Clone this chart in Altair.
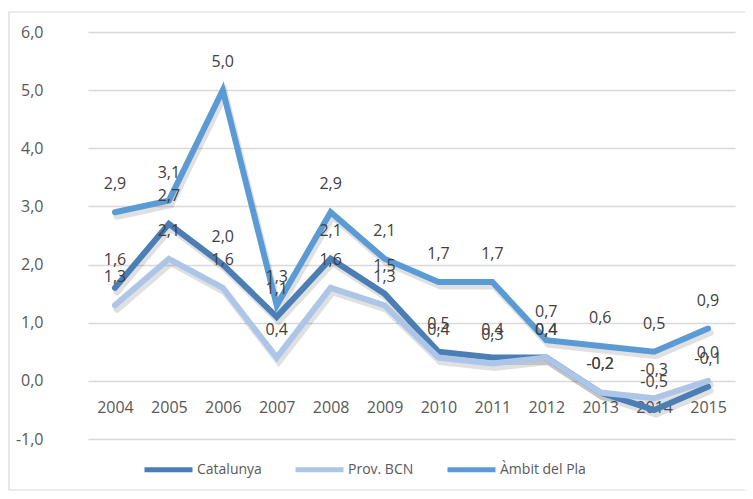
import altair as alt
import pandas as pd

years = ["2004", "2005", "2006", "2007", "2008", "2009", "2010", "2011", "2012", "2013", "2014", "2015"]
series_names = ["Catalunya", "Prov. BCN", "Àmbit del Pla"]
catalunya = [1.6, 2.7, 2.0, 1.1, 2.1, 1.5, 0.5, 0.4, 0.4, -0.2, -0.5, -0.1]
prov_bcn = [1.3, 2.1, 1.6, 0.4, 1.6, 1.3, 0.4, 0.3, 0.4, -0.2, -0.3, 0.0]
ambit = [2.9, 3.1, 5.0, 1.3, 2.9, 2.1, 1.7, 1.7, 0.7, 0.6, 0.5, 0.9]
colors = ["#4A7EB4", "#ADC6E8", "#5B9BD5"]
y_ticks = [-1, 0, 1, 2, 3, 4, 5, 6]

rows = []
for name, vals in zip(series_names, [catalunya, prov_bcn, ambit]):
    for yr, v in zip(years, vals):
        rows.append({"series": name, "year": yr, "value": v,
                     "label": f"{v:.1f}".replace(".", ",")})
df = pd.DataFrame(rows)

FONT = "Open Sans"
TXT = "#595959"

x_enc = alt.X("year:O", title=None, sort=years,
              scale=alt.Scale(type="point", range=[29, 676]),
              axis=alt.Axis(domain=False, ticks=False, grid=False, labelAngle=0,
                            offset=-58, labelPadding=18))
y_enc = alt.Y("value:Q", title=None,
              scale=alt.Scale(domain=[-1, 6], nice=False, zero=False),
              axis=alt.Axis(values=y_ticks, domain=False, ticks=False, grid=True,
                            gridColor="#D9D9D9", gridWidth=1.5, labelPadding=16,
                            labelExpr="replace(replace(format(datum.value, '.1f'), '.', ','), '\u2212', '-')"))

base = alt.Chart(df).encode(x=x_enc, y=y_enc)

frame = alt.Chart(pd.DataFrame({"a": [0]})).mark_rect(
    fill=None, stroke="#D9D9D9", strokeWidth=1.2
).encode(x=alt.value(-50), x2=alt.value(720), y=alt.value(-20), y2=alt.value(458))

shadow = base.mark_line(color="#000000", opacity=0.12, strokeWidth=7,
                        strokeCap="round", xOffset=2, yOffset=4).encode(
    detail=alt.Detail("series:N"))

lines = base.mark_line(strokeWidth=6, strokeCap="round", strokeJoin="miter").encode(
    color=alt.Color("series:N",
                    scale=alt.Scale(domain=series_names, range=colors),
                    legend=alt.Legend(title=None, orient="none", legendX=83, legendY=411,
                                      direction="horizontal", symbolType="stroke",
                                      symbolSize=2304, symbolStrokeWidth=5,
                                      labelFontSize=14, labelColor=TXT, labelFont=FONT,
                                      labelOffset=2, columnPadding=23, padding=0)),
    order=alt.Order("year:O"))

labels = base.mark_text(dy=-28, fontSize=16, color="#404040", font=FONT).encode(
    text="label:N", detail="series:N")

chart = alt.layer(frame, shadow, lines, labels).properties(
    width=686, height=407,
    autosize=alt.AutoSizeParams(type="none"),
    padding={"left": 51, "top": 24, "right": 0, "bottom": 52},
).configure_view(stroke=None).configure_axis(
    labelFont=FONT, labelFontSize=16, labelColor=TXT
)

chart.save("out.html", embed_options={"renderer": "svg", "actions": False})
